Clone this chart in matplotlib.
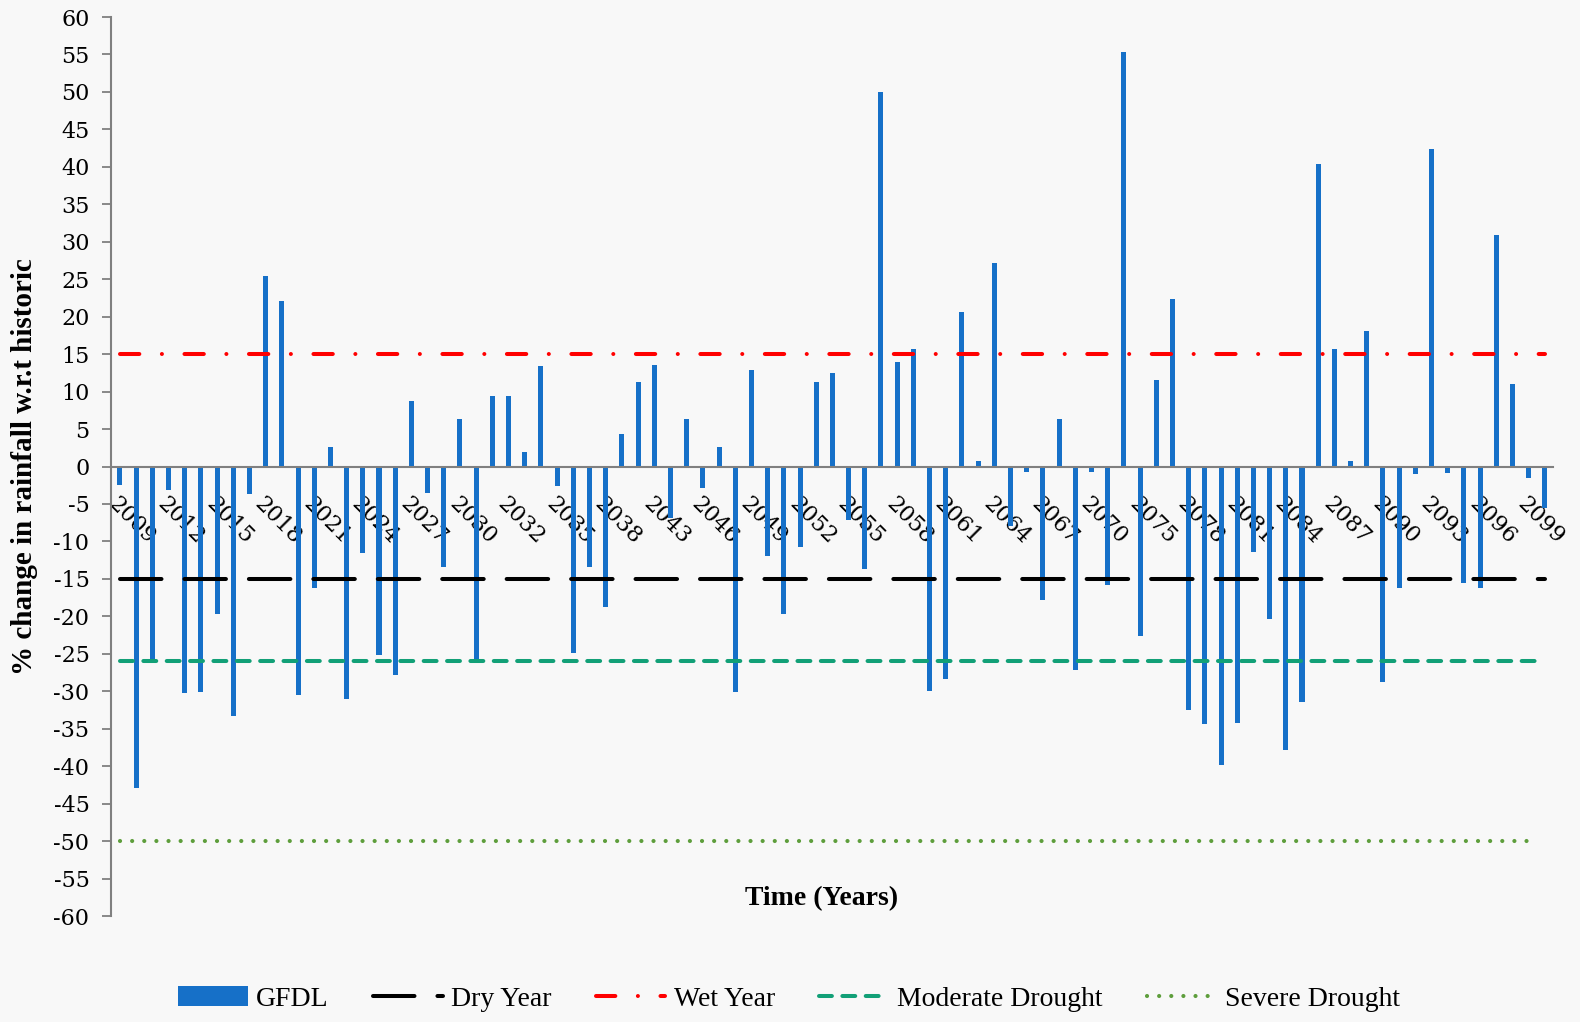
# plot.py
# GFDL projected rainfall change vs. historic, with drought / wet thresholds

import matplotlib.pyplot as plt
from matplotlib.patches import Patch
from matplotlib.lines import Line2D

# ── data ───────────────────────────────────────────────────────────
gfdl = [
    -2.5, -42.9, -25.8, -3.2, -30.3, -30.1, -19.7, -33.3, -3.7, 25.4,
    22.1, -30.5, -16.2, 2.6, -31.1, -11.6, -25.1, -27.8, 8.7, -3.6,
    -13.4, 6.3, -26.2, 9.4, 9.4, 1.9, 13.4, -2.6, -24.9, -13.4,
    -18.7, 4.4, 11.3, 13.5, -6.9, 6.3, -2.9, 2.6, -30.1, 12.9,
    -12.0, -19.7, -10.8, 11.3, 12.5, -7.2, -13.7, 50.0, 14.0, 15.7,
    -29.9, -28.4, 20.6, 0.8, 27.2, -7.9, -0.8, -17.8, 6.3, -27.1,
    -0.8, -15.8, 55.3, -22.6, 11.5, 22.4, -32.5, -34.4, -39.8, -34.3,
    -11.4, -20.4, -37.8, -31.4, 40.4, 15.7, 0.8, 18.1, -28.7, -16.2,
    -1.0, 42.4, -0.9, -15.5, -16.2, 30.9, 11.0, -1.5, -5.5,
]
tick_labels = [
    '2009', '2012', '2015', '2018', '2021', '2024', '2027', '2030',
    '2032', '2035', '2038', '2043', '2046', '2049', '2052', '2055',
    '2058', '2061', '2064', '2067', '2070', '2075', '2078', '2081',
    '2084', '2087', '2090', '2093', '2096', '2099',
]
dry_year = -15
wet_year = 15
moderate_drought = -26
severe_drought = -50

SERIF = ['Liberation Serif', 'DejaVu Serif']
TICKF = ['DejaVu Serif']
BG = '#f8f8f8'
BLUE = '#1670c8'

fig = plt.figure(figsize=(15.8, 10.22), dpi=100, facecolor=BG)
ax = fig.add_axes([111 / 1580, 1 - 916 / 1022, (1553 - 111) / 1580, 899 / 1022])
ax.set_facecolor(BG)

x = list(range(len(gfdl)))
ax.bar(x, gfdl, width=0.31, color=BLUE, zorder=2)

# threshold lines (drawn across the category span)
x0, x1 = 0, len(gfdl) - 1
lw = 2.9
ax.plot([x0, x1], [dry_year] * 2, color='black', lw=lw,
        dashes=(10.3, 5.7), dash_capstyle='round', zorder=3)
ax.plot([x0, x1], [wet_year] * 2, color='#ff0000', lw=lw,
        dashes=(4.8, 5.6, 0.01, 5.6), dash_capstyle='round', zorder=3)
ax.plot([x0, x1 - 0.5], [moderate_drought] * 2, color='#12a077', lw=lw,
        dashes=(3.2, 2.6), dash_capstyle='round', zorder=3)
ax.plot([x0, x1 - 0.5], [severe_drought] * 2, color='#5e9e3c', lw=3,
        dashes=(0.01, 2.9), dash_capstyle='round', zorder=3)

# axes
ax.set_xlim(-0.55, len(gfdl) - 0.5)
ax.set_ylim(-60, 60)
ax.set_yticks(range(-60, 61, 5))
ax.set_yticklabels([str(v) for v in range(-60, 61, 5)], family=TICKF,
                   fontsize=16)
ax.tick_params(axis='y', direction='out', length=6.5, width=1.3,
               color='#808080', pad=9)

ax.spines[['top', 'right']].set_visible(False)
ax.spines['left'].set_color('#808080')
ax.spines['left'].set_linewidth(1.5)
ax.spines['bottom'].set_position(('data', 0))
ax.spines['bottom'].set_color('#808080')
ax.spines['bottom'].set_linewidth(1.5)
ax.spines['bottom'].set_zorder(4)

ax.set_xticks(range(0, len(gfdl) - 1, 3))
ax.set_xticklabels(tick_labels, family=TICKF, fontsize=16, rotation=-45,
                   ha='left', va='top', rotation_mode='anchor')
ax.tick_params(axis='x', length=0, pad=19)

fig.text(25 / 1580, 1 - 467 / 1022, '% change in rainfall w.r.t historic',
         rotation=90, ha='center', va='center', family=SERIF,
         fontsize=21, fontweight='bold')
fig.text(822 / 1580, 1 - 899 / 1022, 'Time (Years)', ha='center',
         va='center', family=SERIF, fontsize=20, fontweight='bold')

# legend
handles = [
    Patch(facecolor=BLUE, label='GFDL'),
    Line2D([], [], color='black', lw=lw, dashes=(10.3, 5.7),
           dash_capstyle='round', label='Dry Year'),
    Line2D([], [], color='#ff0000', lw=lw, dashes=(4.8, 5.6, 0.01, 5.6),
           dash_capstyle='round', label='Wet Year'),
    Line2D([], [], color='#12a077', lw=lw, dashes=(3.2, 2.6),
           dash_capstyle='round', label='Moderate Drought'),
    Line2D([], [], color='#5e9e3c', lw=3, dashes=(0.01, 2.9),
           dash_capstyle='round', label='Severe Drought'),
]
fig.legend(handles=handles, loc='center', ncol=5, frameon=False,
           bbox_to_anchor=(789 / 1580, 1 - 999 / 1022),
           prop={'family': SERIF, 'size': 20}, handlelength=2.5,
           handletextpad=0.3, columnspacing=1.6)

plt.savefig('out.png', dpi=100, facecolor=BG)
plt.close()
